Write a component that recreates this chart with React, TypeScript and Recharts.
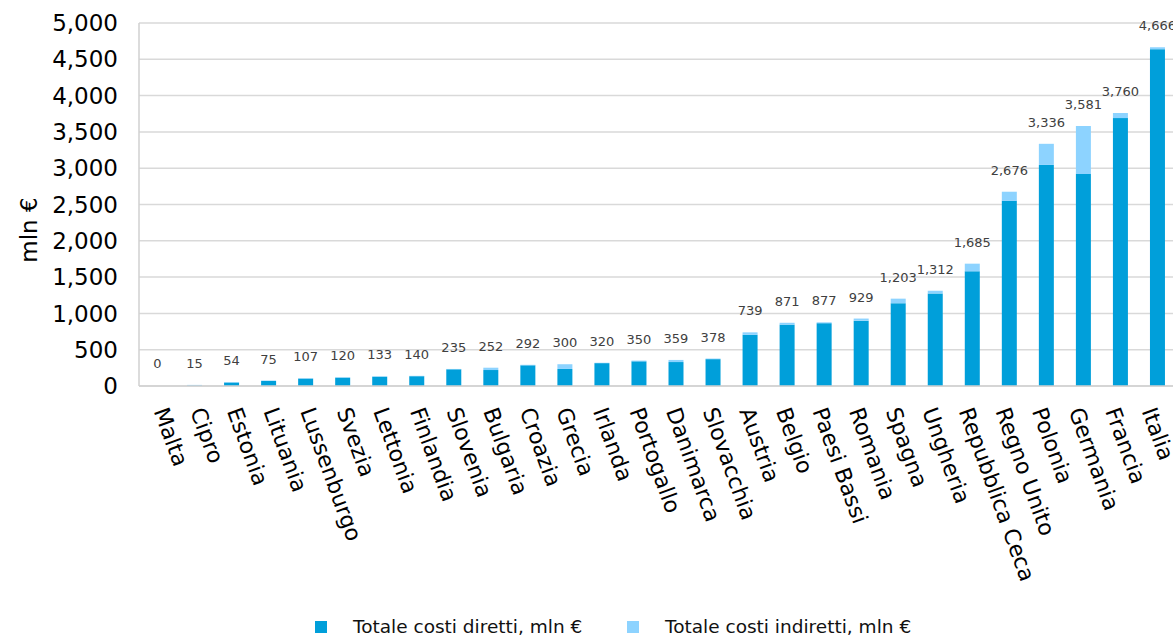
import { Bar, BarChart, CartesianGrid, Label, LabelList, Legend, XAxis, YAxis } from "recharts";

const countries = [
  "Malta", "Cipro", "Estonia", "Lituania", "Lussenburgo", "Svezia", "Lettonia", "Finlandia",
  "Slovenia", "Bulgaria", "Croazia", "Grecia", "Irlanda", "Portogallo", "Danimarca", "Slovacchia",
  "Austria", "Belgio", "Paesi Bassi", "Romania", "Spagna", "Ungheria", "Repubblica Ceca",
  "Regno Unito", "Polonia", "Germania", "Francia", "Italia",
];
const totals = [
  0, 15, 54, 75, 107, 120, 133, 140, 235, 252, 292, 300, 320, 350, 359, 378,
  739, 871, 877, 929, 1203, 1312, 1685, 2676, 3336, 3581, 3760, 4666,
];
const direct = [
  0, 5, 48, 70, 102, 115, 128, 135, 230, 220, 285, 235, 315, 340, 330, 370,
  705, 845, 865, 900, 1140, 1275, 1580, 2550, 3045, 2920, 3690, 4640,
];
const indirect = [
  0, 10, 6, 5, 5, 5, 5, 5, 5, 32, 7, 65, 5, 10, 29, 8,
  34, 26, 12, 29, 63, 37, 105, 126, 291, 661, 70, 26,
];
const yTicks = [0, 500, 1000, 1500, 2000, 2500, 3000, 3500, 4000, 4500, 5000];

const DARK = "#009FDA";
const LIGHT = "#8DD3FF";
const FONT = "DejaVu Sans, Verdana, sans-serif";

const data = countries.map((name, i) => ({
  name,
  direct: direct[i],
  indirect: indirect[i],
  total: totals[i],
}));

const fmt = (v: number) => Number(v).toLocaleString("en-US");

// category labels in the original sit on a slightly tighter pitch than the bars
function CountryTick(props: any) {
  const { x, y, payload, index } = props;
  const ax = x - 4 - (index ?? 0) * 0.44;
  const ay = y + 17;
  return (
    <text
      x={ax}
      y={ay}
      transform={`rotate(70, ${ax}, ${ay})`}
      textAnchor="start"
      fontSize={22}
      fontFamily={FONT}
      fill="#000"
    >
      {payload.value}
    </text>
  );
}

function YTitle() {
  return (
    <text
      x={37}
      y={230}
      transform="rotate(-90, 37, 230)"
      textAnchor="middle"
      fontSize={23}
      fontFamily={FONT}
      fill="#000"
    >
      mln €
    </text>
  );
}

function LegendBox() {
  const items = [
    { label: "Totale costi diretti, mln €", color: DARK, sq: 315, txt: 353 },
    { label: "Totale costi indiretti, mln €", color: LIGHT, sq: 627, txt: 665 },
  ];
  return (
    <div style={{ position: "relative", height: 25, fontFamily: FONT }}>
      {items.map((it) => (
        <div key={it.label}>
          <span
            style={{ position: "absolute", left: it.sq, top: 9, width: 12, height: 12, background: it.color }}
          />
          <span
            style={{
              position: "absolute",
              left: it.txt,
              top: 4,
              fontSize: 18.5,
              lineHeight: "22px",
              color: "#111",
              whiteSpace: "nowrap",
            }}
          >
            {it.label}
          </span>
        </div>
      ))}
    </div>
  );
}

export default function App() {
  return (
    <div
      style={{
        position: "absolute",
        left: 0,
        top: 0,
        width: 1173,
        height: 637,
        overflow: "hidden",
        background: "#fff",
        fontFamily: FONT,
      }}
    >
      <BarChart width={1176} height={637} data={data} margin={{ top: 23, right: 0, left: 0, bottom: 0 }}>
        <CartesianGrid vertical={false} stroke="#D9D9D9" strokeWidth={1.5} />
        <XAxis
          dataKey="name"
          interval={0}
          height={251}
          tickLine={false}
          axisLine={{ stroke: "#D0D0D0", strokeWidth: 1.5 }}
          tick={<CountryTick />}
        />
        {/* hidden twin axis: carries the total labels, so Malta's 0 still gets one */}
        <XAxis xAxisId="totals" dataKey="name" hide />
        <YAxis
          width={139}
          domain={[0, 5000]}
          ticks={yTicks}
          tickFormatter={fmt}
          tickLine={false}
          tickMargin={15}
          axisLine={{ stroke: "#D0D0D0", strokeWidth: 1.5 }}
          tick={{ fontSize: 23, fill: "#000", fontFamily: FONT }}
        >
          <Label content={<YTitle />} />
        </YAxis>
        <Legend
          layout="horizontal"
          verticalAlign="middle"
          align="center"
          wrapperStyle={{ top: 612, left: 0, width: 1173 }}
          content={<LegendBox />}
        />
        <Bar dataKey="direct" stackId="a" fill={DARK} barSize={15} isAnimationActive={false} />
        <Bar dataKey="indirect" stackId="a" fill={LIGHT} barSize={15} isAnimationActive={false} />
        <Bar
          dataKey="total"
          xAxisId="totals"
          fill="transparent"
          barSize={15}
          minPointSize={1}
          legendType="none"
          isAnimationActive={false}
        >
          <LabelList
            dataKey="total"
            position="top"
            offset={17}
            formatter={fmt}
            fontSize={13}
            fill="#404040"
            fontFamily={FONT}
          />
        </Bar>
      </BarChart>
    </div>
  );
}
